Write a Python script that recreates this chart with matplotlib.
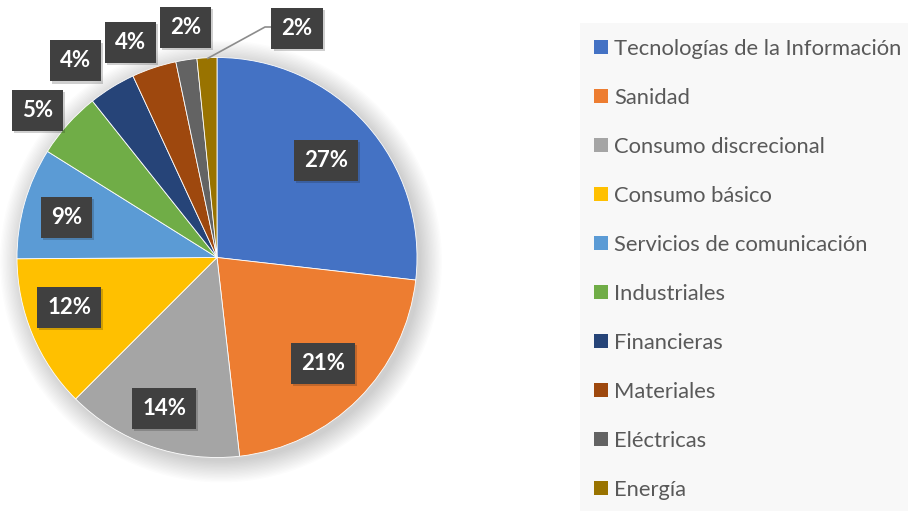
import numpy as np
import matplotlib
matplotlib.use("Agg")
import matplotlib.pyplot as plt
from matplotlib.patches import Rectangle, Circle
import matplotlib.patheffects as pe

categories = ["Tecnologías de la Información", "Sanidad", "Consumo discrecional",
              "Consumo básico", "Servicios de comunicación", "Industriales",
              "Financieras", "Materiales", "Eléctricas", "Energía"]
values = [26.8, 21.4, 14.3, 12.4, 9.0, 5.4, 3.8, 3.6, 1.7, 1.6]
colors = ["#4472C4", "#ED7D31", "#A5A5A5", "#FFC000", "#5B9BD5",
          "#70AD47", "#264478", "#9E480E", "#636363", "#997300"]

plt.rcParams['font.family'] = ['Lato', 'DejaVu Sans']

W, H = 908, 511
fig = plt.figure(figsize=(W / 100, H / 100), dpi=100)
fig.patch.set_facecolor("white")

# pie axes: pixel scale 200 px per unit, centre at (217, 257.5) from top
ax_w_px = 570
ax = fig.add_axes([0, 0, ax_w_px / W, 1])
cx, cy = 217, H - 257.5
R = 200.0

# soft shadow
for i in range(16):
    ax.add_patch(Circle((0.02, -0.02), 1.0 + 0.007 * i, color="black",
                        alpha=0.011, lw=0, zorder=0))

wedges, _ = ax.pie(values, colors=colors, startangle=90, counterclock=False,
                   radius=1.0, wedgeprops=dict(edgecolor="white", linewidth=0.6))
for w in wedges:
    w.set_zorder(2)

ax.set_aspect("auto")
ax.set_xlim(-cx / R, (ax_w_px - cx) / R)
ax.set_ylim(-cy / R, (H - cy) / R)
ax.axis("off")

rad = [0.73, 0.75, 0.8, 0.78, 0.78, 1.16, 1.21, 1.16, 1.16, None]
dang = [0, 0, 0, -4, 1, 2.5, 4, 3.5, -1, 0]

box = dict(boxstyle="square,pad=0.45", facecolor="#404040", edgecolor="none",
           linewidth=0)

def add_label(x, y, s):
    t = ax.text(x, y, s, ha="center", va="center", color="white",
                fontsize=16, fontweight="bold", bbox=box, zorder=5)
    t.get_bbox_patch().set_path_effects(
        [pe.SimplePatchShadow(offset=(1.5, -1.5), alpha=0.2), pe.Normal()])
    return t

for i, (w, v) in enumerate(zip(wedges, values)):
    mid = np.deg2rad((w.theta1 + w.theta2) / 2 + dang[i])
    lab = f"{round(v)}%"
    if rad[i] is not None:
        add_label(rad[i] * np.cos(mid), rad[i] * np.sin(mid), lab)
    else:
        x0, y0 = np.cos(mid), np.sin(mid)
        kx, ky = 0.24, 1.1525
        ax.plot([x0 * 0.995, kx, kx + 0.055], [y0 * 0.995, ky, ky],
                color="#8c8c8c", lw=1.2, zorder=4, solid_capstyle="butt")
        add_label(0.40, 1.1475, lab)

# legend panel
lx0, ly_top = 580, 23
fig.add_artist(Rectangle((lx0 / W, 0), (W - lx0) / W, (H - ly_top) / H,
                         transform=fig.transFigure, facecolor="#F8F8F8",
                         edgecolor="none", zorder=0))
row0, step = 47, 49
for i, (c, col) in enumerate(zip(categories, colors)):
    yc = row0 + i * step
    fig.add_artist(Rectangle((594 / W, (H - yc - 7) / H), 14 / W, 14 / H,
                             transform=fig.transFigure, facecolor=col,
                             edgecolor="none"))
    fig.text(614 / W, (H - yc) / H, c, ha="left", va="center_baseline",
             fontsize=15.8, color="#595959")

fig.savefig("out.png", dpi=100, facecolor="white")
